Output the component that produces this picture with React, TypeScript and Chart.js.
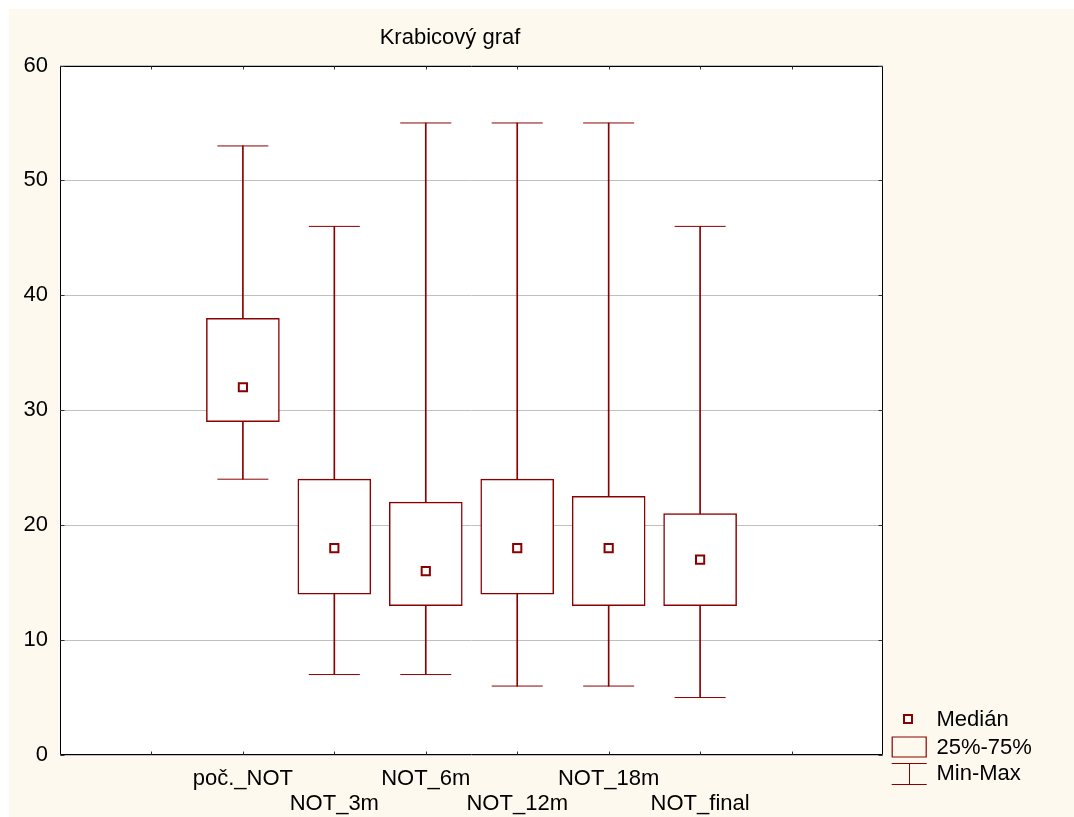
import React, { useEffect, useRef } from "react";
import { Chart, registerables } from "chart.js";

Chart.register(...registerables);

const chartTitle = "Krabicový graf";
const categories = ["poč._NOT", "NOT_3m", "NOT_6m", "NOT_12m", "NOT_18m", "NOT_final"];
const minValues = [24, 7, 7, 6, 6, 5];
const q1Values = [29, 14, 13, 14, 13, 13];
const medianValues = [32, 18, 16, 18, 18, 17];
const q3Values = [38, 24, 22, 24, 22.5, 21];
const maxValues = [53, 46, 55, 55, 55, 46];
const yTicks = [0, 10, 20, 30, 40, 50, 60];
const legendLabels = ["Medián", "25%-75%", "Min-Max"];

const LEAD = 2; // empty slots before first category
const TRAIL = 2;

const RED = "#8b0000";
const CREAM = "#fdf9ee";
const FONT = "'Liberation Sans', Arial, sans-serif";
const FS = 22;

const pad = <T,>(arr: T[]): (T | null)[] => [
  ...Array(LEAD).fill(null),
  ...arr,
  ...Array(TRAIL).fill(null),
];

const axisLabels = ["", "", ...categories, "", ""];

const decorPlugin = {
  id: "decor",
  beforeDraw(chart: any) {
    const { ctx, chartArea } = chart;
    ctx.save();
    ctx.fillStyle = "#ffffff";
    ctx.fillRect(chartArea.left, chartArea.top, chartArea.right - chartArea.left, chartArea.bottom - chartArea.top);
    ctx.restore();
  },
  afterDraw(chart: any) {
    const { ctx, chartArea, scales } = chart;
    const { left, right, top, bottom } = chartArea;
    ctx.save();
    // frame
    ctx.strokeStyle = "#000000";
    ctx.lineWidth = 1;
    const L = Math.round(left) + 0.5;
    const R = Math.round(right) - 0.5;
    const T = Math.round(top) + 0.5;
    const B = Math.round(bottom) - 0.5;
    ctx.beginPath();
    ctx.rect(L, T, R - L, B - T);
    ctx.stroke();
    // inward ticks y
    ctx.beginPath();
    for (const v of yTicks) {
      const y = Math.round(scales.y.getPixelForValue(v)) + 0.5;
      ctx.moveTo(L, y);
      ctx.lineTo(L + 4, y);
      ctx.moveTo(R, y);
      ctx.lineTo(R - 4, y);
    }
    // inward ticks x
    for (let i = 1; i < axisLabels.length - 1; i++) {
      const x = Math.round(scales.x.getPixelForValue(i)) + 0.5;
      ctx.moveTo(x, B);
      ctx.lineTo(x, B - 3);
      ctx.moveTo(x, T);
      ctx.lineTo(x, T + 3);
    }
    ctx.strokeStyle = "#333333";
    ctx.stroke();

    // title
    ctx.fillStyle = "#000000";
    ctx.font = `${FS}px ${FONT}`;
    ctx.textAlign = "center";
    ctx.textBaseline = "middle";
    ctx.fillText(chartTitle, 441, 29);

    // legend
    const lx = 882.7;
    const lw = 34;
    const textX = 927.5;
    ctx.textAlign = "left";
    ctx.fillText(legendLabels[0], textX, 710.5);
    ctx.fillText(legendLabels[1], textX, 738.5);
    ctx.fillText(legendLabels[2], textX, 764.5);

    // median marker icon
    ctx.strokeStyle = RED;
    ctx.lineWidth = 2;
    ctx.fillStyle = "#ffffff";
    ctx.beginPath();
    ctx.rect(895, 706, 8, 8);
    ctx.fill();
    ctx.stroke();

    // box icon
    ctx.lineWidth = 1.2;
    ctx.beginPath();
    ctx.rect(lx + 0.5, 728, lw, 20);
    ctx.stroke();

    // whisker icon
    ctx.lineWidth = 1;
    ctx.beginPath();
    ctx.moveTo(lx, 754.5);
    ctx.lineTo(lx + lw + 1, 754.5);
    ctx.moveTo(lx, 775.5);
    ctx.lineTo(lx + lw + 1, 775.5);
    ctx.moveTo(900.5, 754.5);
    ctx.lineTo(900.5, 775.5);
    ctx.stroke();

    ctx.restore();
  },
};

export default function App() {
  const ref = useRef<HTMLCanvasElement | null>(null);

  useEffect(() => {
    if (!ref.current) return;
    const whiskerData = pad(minValues.map((m, i) => [m, maxValues[i]]));
    const boxData = pad(q1Values.map((q, i) => [q, q3Values[i]]));

    const chart = new Chart(ref.current, {
      type: "bar",
      data: {
        labels: axisLabels,
        datasets: [
          {
            type: "bar",
            label: "whisker",
            data: whiskerData as any,
            backgroundColor: RED,
            borderWidth: 0,
            barThickness: 1,
            grouped: false,
            order: 5,
          } as any,
          {
            type: "bar",
            label: "box",
            data: boxData as any,
            backgroundColor: "#ffffff",
            borderColor: RED,
            borderWidth: 1.5,
            borderSkipped: false,
            barThickness: 73,
            grouped: false,
            order: 4,
          } as any,
          {
            type: "line",
            label: "max",
            data: pad(maxValues),
            showLine: false,
            pointStyle: "line",
            pointRadius: 25.5,
            pointBorderColor: RED,
            pointBorderWidth: 1,
            order: 3,
          } as any,
          {
            type: "line",
            label: "min",
            data: pad(minValues),
            showLine: false,
            pointStyle: "line",
            pointRadius: 25.5,
            pointBorderColor: RED,
            pointBorderWidth: 1,
            order: 2,
          } as any,
          {
            type: "line",
            label: "median",
            data: pad(medianValues),
            showLine: false,
            pointStyle: "rect",
            pointRadius: 5.8,
            pointBackgroundColor: "#ffffff",
            pointBorderColor: RED,
            pointBorderWidth: 2,
            order: 1,
          } as any,
        ],
      },
      options: {
        responsive: false,
        animation: false,
        events: [],
        layout: { padding: { top: 56.5, right: 191, left: 0, bottom: 0 } },
        plugins: {
          legend: { display: false },
          title: { display: false },
          tooltip: { enabled: false },
        },
        scales: {
          x: {
            type: "category",
            offset: false,
            grid: { display: false, offset: false },
            border: { display: false },
            afterFit: (s: any) => {
              s.height = 62;
            },
            ticks: {
              autoSkip: false,
              maxRotation: 0,
              minRotation: 0,
              padding: 3,
              color: "#000000",
              font: { family: FONT, size: FS, lineHeight: 25 / FS },
              callback: (_v: any, i: number) => {
                const c = axisLabels[i];
                if (!c) return "";
                const k = i - LEAD;
                return k % 2 === 0 ? c : ["", c];
              },
            },
          },
          y: {
            min: 0,
            max: 60,
            afterFit: (s: any) => {
              s.width = 51;
            },
            grid: { color: "#c0c0c0", lineWidth: 1, drawTicks: false },
            border: { display: false },
            ticks: {
              stepSize: 10,
              padding: 12,
              color: "#000000",
              font: { family: FONT, size: FS },
            },
          },
        },
      },
      plugins: [decorPlugin],
    });
    return () => chart.destroy();
  }, []);

  return (
    <div
      style={{
        position: "fixed",
        left: 9,
        top: 9,
        width: 1065,
        height: 808,
        background: CREAM,
      }}
    >
      <canvas ref={ref} width={1065} height={808} style={{ display: "block" }} />
    </div>
  );
}
